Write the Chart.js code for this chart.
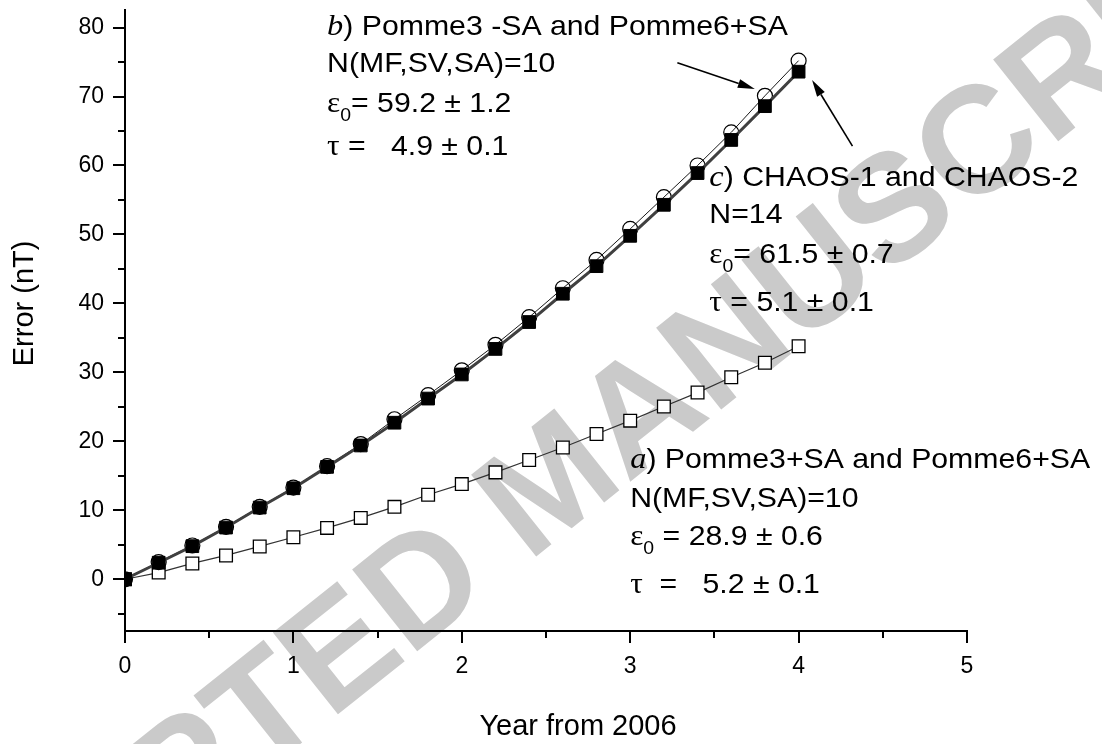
<!DOCTYPE html>
<html>
<head>
<meta charset="utf-8">
<script src="https://cdn.jsdelivr.net/npm/chart.js@4.4.1/dist/chart.umd.min.js"></script>
<style>
  html, body { margin: 0; padding: 0; background: #fff; }
  #wrap { width: 1102px; height: 744px; }
</style>
</head>
<body>
<div id="wrap"><canvas id="myChart" width="1102" height="744"></canvas></div>
<script>
// years after 2006 and the error curves (nT)
const years = [0, 0.2, 0.4, 0.6, 0.8, 1.0, 1.2, 1.4, 1.6, 1.8, 2.0, 2.2, 2.4, 2.6, 2.8, 3.0, 3.2, 3.4, 3.6, 3.8, 4.0];
const errPommeSA = [0, 0.97, 2.3, 3.46, 4.76, 6.1, 7.45, 8.9, 10.5, 12.26, 13.8, 15.5, 17.3, 19.1, 21.06, 23.0, 25.05, 27.07, 29.3, 31.4, 33.8];
const errPommeMinusSA = [0, 2.5, 4.9, 7.6, 10.5, 13.3, 16.4, 19.6, 23.2, 26.7, 30.3, 34.0, 38.0, 42.2, 46.3, 50.8, 55.4, 60.0, 64.8, 70.1, 75.2];
const errChaos = [0, 2.4, 4.8, 7.5, 10.4, 13.2, 16.3, 19.4, 22.7, 26.2, 29.7, 33.4, 37.3, 41.4, 45.4, 49.8, 54.3, 58.9, 63.7, 68.6, 73.6];

const xTicks = [0, 0.5, 1, 1.5, 2, 2.5, 3, 3.5, 4, 4.5, 5];
const yTicks = [-5, 0, 5, 10, 15, 20, 25, 30, 35, 40, 45, 50, 55, 60, 65, 70, 75, 80];

const SANS = "'Liberation Sans', Arial, sans-serif";
const SERIF = "'Liberation Serif', 'Times New Roman', serif";

const toPoints = vals => vals.map((v, i) => ({ x: years[i], y: v }));

// text blocks, anchored in data units (first baseline), line offsets in px
const notes = [
  { x: 1.2, y: 78.9, gaps: [0, 37, 77, 120], lines: [
    [['b', 'i'], [') Pomme3 -SA and Pomme6+SA']],
    [['N(MF,SV,SA)=10']],
    [['ε', 'g'], ['0', 's'], ['= 59.2 ± 1.2']],
    [['τ', 'g'], [' =   4.9 ± 0.1']]
  ]},
  { x: 3.47, y: 57.0, gaps: [0, 37, 77, 125], lines: [
    [['c', 'i'], [') CHAOS-1 and CHAOS-2']],
    [['N=14']],
    [['ε', 'g'], ['0', 's'], ['= 61.5 ± 0.7']],
    [['τ', 'g'], [' = 5.1 ± 0.1']]
  ]},
  { x: 3.0, y: 16.15, gaps: [0, 39, 77, 125], lines: [
    [['a', 'i'], [') Pomme3+SA and Pomme6+SA']],
    [['N(MF,SV,SA)=10']],
    [['ε', 'g'], ['0', 's'], [' = 28.9 ± 0.6']],
    [['τ', 'g'], ['  =   5.2 ± 0.1']]
  ]}
];

// arrows pointing at the curve ends (data units)
const arrows = [
  { from: [3.28, 74.9], to: [3.74, 71.1] },
  { from: [4.32, 62.8], to: [4.08, 72.4] }
];

function drawLine(ctx, x, y, parts) {
  ctx.save();
  ctx.translate(x, y);
  ctx.scale(1.08, 1);
  let cx = 0;
  parts.forEach(p => {
    let dy = 0;
    if (p[1] === 'i') ctx.font = 'italic 30px ' + SERIF;
    else if (p[1] === 'g') ctx.font = '29px ' + SERIF;
    else if (p[1] === 's') { ctx.font = '18px ' + SANS; dy = 9; }
    else ctx.font = '28px ' + SANS;
    ctx.fillText(p[0], cx, dy);
    cx += ctx.measureText(p[0]).width;
  });
  ctx.restore();
}

function drawArrow(ctx, x1, y1, x2, y2) {
  const a = Math.atan2(y2 - y1, x2 - x1);
  const hl = 17, hw = 4.5;
  const bx = x2 - hl * Math.cos(a), by = y2 - hl * Math.sin(a);
  ctx.beginPath();
  ctx.moveTo(x1, y1);
  ctx.lineTo(bx, by);
  ctx.stroke();
  ctx.beginPath();
  ctx.moveTo(x2, y2);
  ctx.lineTo(bx + hw * Math.sin(a), by - hw * Math.cos(a));
  ctx.lineTo(bx - hw * Math.sin(a), by + hw * Math.cos(a));
  ctx.closePath();
  ctx.fill();
}

const decorPlugin = {
  id: 'decor',
  beforeDraw(chart) {
    const ctx = chart.ctx;
    ctx.save();
    ctx.fillStyle = '#fff';
    ctx.fillRect(0, 0, chart.width, chart.height);
    // watermark
    ctx.translate(555, 488);
    ctx.rotate(-38.5 * Math.PI / 180);
    ctx.fillStyle = '#cacaca';
    ctx.font = 'bold 152px ' + SANS;
    ctx.textAlign = 'center';
    ctx.textBaseline = 'middle';
    ctx.fillText('ACCEPTED MANUSCRIPT', 0, 0);
    ctx.restore();
  },
  afterDraw(chart) {
    const ctx = chart.ctx;
    const xs = chart.scales.x, ys = chart.scales.y;
    const area = chart.chartArea;
    ctx.save();
    ctx.strokeStyle = '#000';
    ctx.fillStyle = '#000';
    ctx.lineWidth = 2;

    // tick marks, major and minor
    ctx.beginPath();
    yTicks.forEach(v => {
      const py = Math.round(ys.getPixelForValue(v));
      const len = v % 10 === 0 ? 12 : 7;
      ctx.moveTo(area.left, py);
      ctx.lineTo(area.left - len, py);
    });
    xTicks.forEach(v => {
      const px = Math.round(xs.getPixelForValue(v));
      const len = Number.isInteger(v) ? 12 : 7;
      ctx.moveTo(px, area.bottom);
      ctx.lineTo(px, area.bottom + len);
    });
    ctx.stroke();

    // axis titles
    ctx.font = '29px ' + SANS;
    ctx.textAlign = 'center';
    ctx.fillText('Year from 2006', xs.getPixelForValue(2.69), area.bottom + 104);
    ctx.save();
    ctx.translate(33, ys.getPixelForValue(40));
    ctx.rotate(-Math.PI / 2);
    ctx.fillText('Error (nT)', 0, 0);
    ctx.restore();

    // annotations
    ctx.textAlign = 'left';
    notes.forEach(n => {
      const px = xs.getPixelForValue(n.x);
      const py = ys.getPixelForValue(n.y);
      n.lines.forEach((parts, i) => drawLine(ctx, px, py + n.gaps[i], parts));
    });

    ctx.lineWidth = 1.6;
    arrows.forEach(a => {
      drawArrow(ctx,
        xs.getPixelForValue(a.from[0]), ys.getPixelForValue(a.from[1]),
        xs.getPixelForValue(a.to[0]), ys.getPixelForValue(a.to[1]));
    });
    ctx.restore();
  }
};

new Chart(document.getElementById('myChart'), {
  type: 'line',
  data: {
    datasets: [
      {
        label: 'CHAOS-1 and CHAOS-2',
        data: toPoints(errChaos),
        order: 0,
        borderColor: '#404040',
        borderWidth: 3,
        pointStyle: 'rect',
        pointRadius: 9,
        pointBackgroundColor: '#000',
        pointBorderColor: '#000',
        pointBorderWidth: 1
      },
      {
        label: 'Pomme3 -SA and Pomme6+SA',
        data: toPoints(errPommeMinusSA),
        order: 1,
        borderColor: '#1a1a1a',
        borderWidth: 1,
        pointStyle: 'circle',
        pointRadius: 7.5,
        pointBackgroundColor: 'rgba(0,0,0,0)',
        pointBorderColor: '#000',
        pointBorderWidth: 1.2
      },
      {
        label: 'Pomme3+SA and Pomme6+SA',
        data: toPoints(errPommeSA),
        order: 2,
        borderColor: '#333',
        borderWidth: 1.2,
        pointStyle: 'rect',
        pointRadius: 9,
        pointBackgroundColor: '#fff',
        pointBorderColor: '#000',
        pointBorderWidth: 1.3
      }
    ]
  },
  options: {
    responsive: false,
    animation: false,
    devicePixelRatio: 1,
    layout: { padding: { left: 0, right: 135, top: 7, bottom: 0 } },
    plugins: { legend: { display: false }, tooltip: { enabled: false } },
    elements: { line: { tension: 0 } },
    scales: {
      x: {
        type: 'linear',
        min: 0,
        max: 5,
        afterBuildTicks: s => { s.ticks = xTicks.map(v => ({ value: v })); },
        afterFit: s => { s.height = 113; s.paddingLeft = 0; s.paddingRight = 0; },
        grid: { display: true, drawOnChartArea: false, color: 'rgba(0,0,0,0)', tickLength: 12, tickColor: 'rgba(0,0,0,0)' },
        border: { display: true, color: '#000', width: 2 },
        ticks: {
          padding: 10,
          color: '#000',
          autoSkip: false,
          maxRotation: 0,
          font: { family: SANS, size: 23 },
          callback: v => Number.isInteger(v) ? v : ''
        }
      },
      y: {
        type: 'linear',
        min: -7.5,
        max: 82.5,
        afterBuildTicks: s => { s.ticks = yTicks.map(v => ({ value: v })); },
        afterFit: s => { s.width = 125; s.paddingTop = 0; s.paddingBottom = 0; },
        grid: { display: true, drawOnChartArea: false, color: 'rgba(0,0,0,0)', tickLength: 12, tickColor: 'rgba(0,0,0,0)' },
        border: { display: true, color: '#000', width: 2 },
        ticks: {
          padding: 9,
          color: '#000',
          autoSkip: false,
          font: { family: SANS, size: 23 },
          callback: v => v % 10 === 0 ? v : ''
        }
      }
    }
  },
  plugins: [decorPlugin]
});
</script>
</body>
</html>
